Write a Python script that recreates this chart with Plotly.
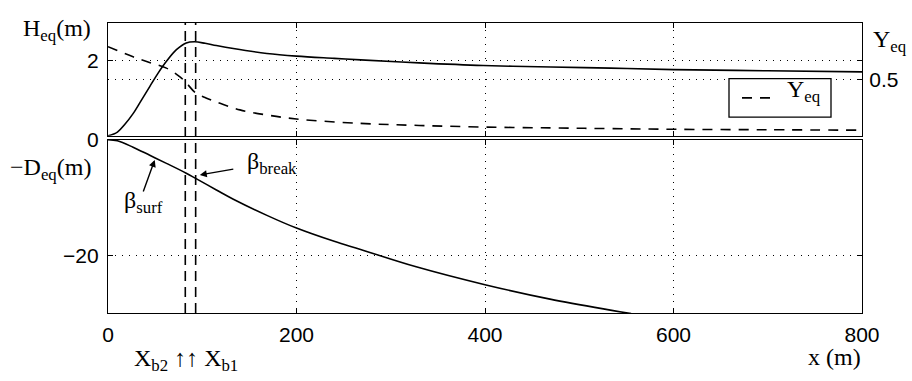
import plotly.graph_objects as go

# Wave height H_eq (m) along the cross-shore profile
x_h = [0, 10, 17.7, 26.6, 35, 44.3, 53, 62, 72.6, 83, 92, 103, 115, 133, 168.6,
       200, 240, 268, 330, 398, 470, 533, 600, 700, 800]
h_eq = [0, 0.1, 0.3, 0.59, 0.93, 1.31, 1.66, 1.98, 2.29, 2.47, 2.50, 2.46, 2.40,
        2.32, 2.19, 2.12, 2.06, 2.02, 1.94, 1.87, 1.83, 1.80, 1.76, 1.73, 1.70]

# Breaker parameter Y_eq (right axis)
x_y = [0, 26.6, 44, 62, 76, 83, 93, 104, 115, 140, 168.6, 200, 268, 330, 398,
       470, 533, 600, 700, 800]
y_eq = [0.79, 0.70, 0.65, 0.60, 0.525, 0.47, 0.38, 0.335, 0.30, 0.23, 0.185,
        0.149, 0.11, 0.092, 0.078, 0.07, 0.064, 0.058, 0.054, 0.05]

# Equilibrium depth profile -D_eq (m)
x_d = [0, 10, 26.6, 44.3, 62, 83, 93, 115, 133, 168.6, 200, 240, 268, 327,
       400, 469, 533, 555]
d_eq = [0, -0.2, -1.3, -2.7, -4.1, -5.8, -6.7, -8.7, -10.3, -13.1, -15.3,
        -17.6, -19.0, -22.0, -25.1, -27.6, -29.5, -30.1]

# Breaking positions
x_b1 = 93
x_b2 = 82

x_ticks = [0, 200, 400, 600, 800]
x_ticktext = ["0", "200", "400", "600", "800"]
h_ticks = [0, 2]
h_ticktext = ["", "2"]
y_ticks = [0.5]
y_ticktext = ["0.5"]
d_ticks = [-20, 0]
d_ticktext = ["\u221220", "0"]

W, H = 912, 381
ML, MR, MT, MB = 108, 50, 11, 68
PW, PH = W - ML - MR, H - MT - MB


def px(xp):
    return (xp - ML) / PW


def py(yp):
    return (H - MB - yp) / PH


SANS = "Liberation Sans, Arial, sans-serif"
SERIF = "Liberation Serif, Times New Roman, serif"
DOTS = "1px,6px"
Y_DASH = "10px,8px"

fig = go.Figure()
fig.add_trace(go.Scatter(x=x_h, y=h_eq, xaxis="x", yaxis="y", mode="lines",
                         line=dict(color="black", width=1.6, shape="spline"),
                         showlegend=False, hoverinfo="skip"))
fig.add_trace(go.Scatter(x=x_y, y=y_eq, xaxis="x", yaxis="y2", mode="lines",
                         name="Y<sub>eq</sub>",
                         line=dict(color="black", width=1.6, dash=Y_DASH,
                                   shape="spline"),
                         showlegend=False, hoverinfo="skip"))
fig.add_trace(go.Scatter(x=x_d, y=d_eq, xaxis="x2", yaxis="y3", mode="lines",
                         line=dict(color="black", width=1.6, shape="spline"),
                         showlegend=False, hoverinfo="skip"))

common_x = dict(range=[0, 800], tickvals=x_ticks, ticktext=x_ticktext,
                ticks="inside", ticklen=5, tickcolor="black",
                showgrid=True, gridcolor="black", gridwidth=1, griddash=DOTS,
                showline=True, linecolor="black", linewidth=1.3,
                mirror="ticks", zeroline=False, fixedrange=True)
common_y = dict(ticks="inside", ticklen=5, tickcolor="black",
                showgrid=True, gridcolor="black", gridwidth=1, griddash=DOTS,
                showline=True, linecolor="black", linewidth=1.3,
                zeroline=False, fixedrange=True,
                tickfont=dict(family=SANS, size=21, color="black"))

top_dom = [py(128.5), 1]
bot_dom = [0, py(132.5)]

fig.update_layout(
    width=W, height=H,
    margin=dict(l=ML, r=MR, t=MT, b=MB),
    paper_bgcolor="white", plot_bgcolor="white",
    xaxis=dict(**common_x, anchor="y", domain=[0, 1], showticklabels=False),
    xaxis2=dict(**common_x, anchor="y3", domain=[0, 1], showticklabels=True,
                tickfont=dict(family=SANS, size=21, color="black"),
                ticklabelstandoff=3),
    yaxis=dict(**common_y, domain=top_dom, range=[0, 3], tickvals=h_ticks,
               ticktext=h_ticktext, mirror="ticks", anchor="x",
               ticklabelstandoff=4),
    yaxis2=dict(**common_y, overlaying="y", side="right", range=[0, 1],
                tickvals=y_ticks, ticktext=y_ticktext, anchor="x",
                ticklabelstandoff=2),
    yaxis3=dict(**common_y, domain=bot_dom, range=[-30, 0], tickvals=d_ticks,
                ticktext=d_ticktext, mirror="ticks", anchor="x2",
                ticklabelstandoff=4),
    showlegend=False,
)

# Breaking positions drawn across both panels
for xb in (x_b2, x_b1):
    fig.add_shape(type="line", xref="x2", yref="paper", x0=xb, x1=xb,
                  y0=0, y1=1, line=dict(color="black", width=1.6,
                                        dash="10px,6px"))

# Legend box for the dashed Y_eq curve
fig.add_shape(type="rect", xref="paper", yref="paper",
              x0=px(729), x1=px(831), y0=py(109), y1=py(69),
              line=dict(color="black", width=1.3), fillcolor="white",
              layer="above")
fig.add_shape(type="line", xref="paper", yref="paper",
              x0=px(742), x1=px(774), y0=py(89), y1=py(89),
              line=dict(color="black", width=1.6, dash=Y_DASH), layer="above")

ann_font = dict(family=SERIF, size=24, color="black")
texts = [
    ("H<sub>eq</sub>(m)", 21, 18, "left"),
    ("\u2212D<sub>eq</sub>(m)", 8, 163, "left"),
    ("Y<sub>eq</sub>", 871, 30, "left"),
    ("Y<sub>eq</sub>", 785, 82, "left"),
    ("x (m)", 863, 359, "right"),
    ("X<sub>b2</sub> \u2191\u2191 X<sub>b1</sub>", 132, 362, "left"),
    ("\u03b2<sub>surf</sub>", 122, 197, "left"),
    ("\u03b2<sub>break</sub>", 245, 157, "left"),
]
for t, xp, yp, xa in texts:
    fig.add_annotation(text=t, x=px(xp), y=py(yp), xref="paper", yref="paper",
                       xanchor=xa, yanchor="middle", showarrow=False,
                       font=ann_font)

# Arrows pointing to the slopes on the depth profile
fig.add_annotation(x=49.6, y=-3.5, xref="x2", yref="y3", text="",
                   showarrow=True, ax=-12, ay=33, arrowhead=2, arrowsize=1,
                   arrowwidth=1.4, arrowcolor="black")
fig.add_annotation(x=97.4, y=-6.1, xref="x2", yref="y3", text="",
                   showarrow=True, ax=35, ay=-6, arrowhead=2, arrowsize=1,
                   arrowwidth=1.4, arrowcolor="black")

fig.write_html("out.html")
